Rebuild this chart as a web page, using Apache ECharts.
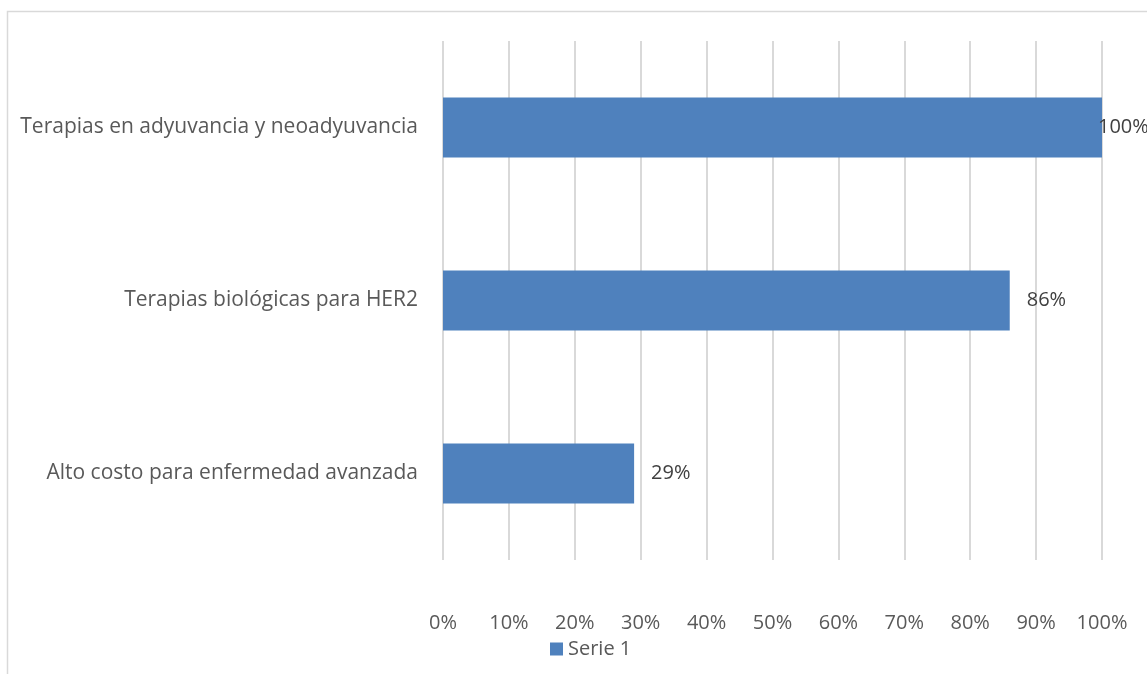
<!DOCTYPE html>
<html>
<head>
<meta charset="UTF-8" />
<title>Serie 1</title>
<script src="https://cdn.jsdelivr.net/npm/echarts@6/dist/echarts.min.js"></script>
<style>
  html, body { margin: 0; height: 100%; background: #fff; }
  #main { width: 1147px; height: 674px; }
</style>
</head>
<body>
<div id="main"></div>
<script>
  // categories from bottom to top
  const categories = [
    'Alto costo para enfermedad avanzada',
    'Terapias biológicas para HER2',
    'Terapias en adyuvancia y neoadyuvancia'
  ];
  const serie1 = [29, 86, 100];
  const ticks = [0, 10, 20, 30, 40, 50, 60, 70, 80, 90, 100];

  const font = '"Open Sans", sans-serif';
  const chart = echarts.init(document.getElementById('main'));

  chart.setOption({
    animation: false,
    textStyle: { fontFamily: font },
    graphic: [{
      type: 'rect',
      shape: { x: 7.5, y: 11.5, width: 1200, height: 700 },
      style: { fill: 'none', stroke: '#d9d9d9', lineWidth: 1.5 },
      silent: true
    }],
    grid: { left: 443, right: 45, top: 41, bottom: 114 },
    legend: {
      bottom: 10,
      left: 545,
      itemWidth: 13,
      itemHeight: 13,
      itemGap: 5,
      icon: 'rect',
      textStyle: { color: '#595959', fontSize: 20, fontFamily: font },
      data: ['Serie 1']
    },
    xAxis: {
      type: 'value',
      min: ticks[0],
      max: ticks[ticks.length - 1],
      interval: 10,
      axisLine: { show: false },
      axisTick: { show: false },
      axisLabel: { color: '#595959', fontSize: 20, margin: 53, formatter: '{value}%' },
      splitLine: { lineStyle: { color: '#d9d9d9', width: 2 } }
    },
    yAxis: {
      type: 'category',
      data: categories,
      axisLine: { show: false },
      axisTick: { show: false },
      axisLabel: { color: '#595959', fontSize: 21, margin: 25 }
    },
    series: [{
      name: 'Serie 1',
      type: 'bar',
      barWidth: 60,
      itemStyle: { color: '#4f81bd' },
      data: serie1.map(v => v === 100
        ? { value: v, label: { distance: -4 } }
        : v),
      label: {
        show: true,
        position: 'right',
        distance: 17,
        color: '#404040',
        fontSize: 20,
        formatter: '{c}%'
      }
    }]
  });
</script>
</body>
</html>
